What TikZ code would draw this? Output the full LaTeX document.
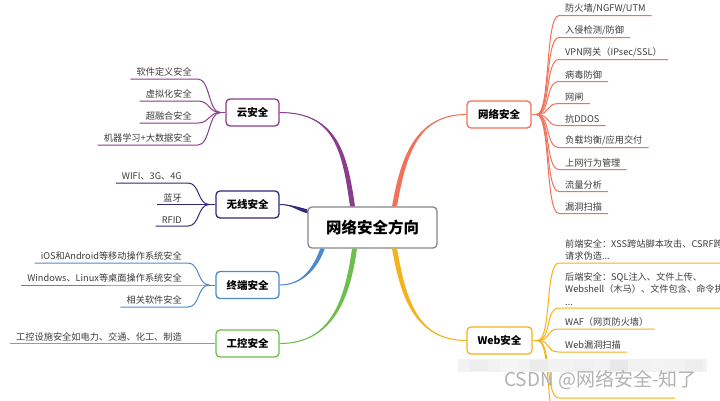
\documentclass[tikz,border=0pt]{standalone}
\usepackage{fontspec}
\newfontfamily\cjk{Noto Sans CJK SC}
\usetikzlibrary{calc}
\definecolor{cNet}{HTML}{F2715A}
\definecolor{cWeb}{HTML}{F6B21B}
\definecolor{cCloud}{HTML}{8A3D8C}
\definecolor{cWl}{HTML}{2F2B7C}
\definecolor{cTerm}{HTML}{4D89CF}
\definecolor{cInd}{HTML}{6DBF4B}
\definecolor{cCenter}{HTML}{858690}
\definecolor{cText}{HTML}{3C3C3C}
\newcommand\mainbranch[7]{%
  \fill[#1] ($(#2)+(#6)$) to[out=#4,in=#5,looseness=#7] (#3)
     to[out=#5,in=#4,looseness=#7] ($(#2)-(#6)$) -- cycle;
  \draw[#1, line width=1pt] (#2) to[out=#4,in=#5,looseness=#7] (#3);
}
\begin{document}
\begin{tikzpicture}[x=1pt,y=1pt,
  topic/.style={draw=#1, line width=1.3pt, rounded corners=4pt, fill=white,
    minimum width=64pt, minimum height=27pt, inner sep=0pt,
    font=\cjk\bfseries\fontsize{10.5}{12}\selectfont, text=black},
  itemR/.style={anchor=south west, inner xsep=6pt, inner ysep=2.5pt,
    font=\cjk\fontsize{9.2}{12.5}\selectfont, text=cText, align=left},
  itemL/.style={anchor=south east, inner xsep=6pt, inner ysep=2.5pt,
    font=\cjk\fontsize{9.2}{12.5}\selectfont, text=cText},
  sub/.style={draw=#1, line width=1pt},
]
\useasboundingbox (0,0) rectangle (720,-400);
\fill[white] (0,0) rectangle (720,-400);

% centre
\node[draw=cCenter, line width=1.3pt, rounded corners=4pt, fill=white,
  minimum width=129pt, minimum height=41pt, inner sep=0pt,
  font=\cjk\bfseries\fontsize{15.5}{18}\selectfont] (c) at (372.5,-227.5) {网络安全方向};

% topics
\node[topic=cNet] (net) at (499,-114.5) {网络安全};
\node[topic=cWeb, minimum width=65pt] (web) at (499.5,-340.5) {Web安全};
\node[topic=cCloud, minimum width=53pt] (cloud) at (252.5,-112.5) {云安全};
\node[topic=cWl, minimum width=63pt] (wl) at (247.5,-204.5) {无线安全};
\node[topic=cTerm, minimum width=63pt] (term) at (247.5,-285) {终端安全};
\node[topic=cInd, minimum width=63pt] (ind) at (247.5,-343.5) {工控安全};

% main branches
\coordinate (sNet) at ($(c.north)+(22,0)$);
\coordinate (sWeb) at ($(c.south)+(22,0)$);
\coordinate (sCloud) at ($(c.north)+(-20,0)$);
\coordinate (sInd) at ($(c.south)+(-18,0)$);
\coordinate (sTerm) at ($(c.south)+(-50,0)$);
\coordinate (sWl) at ($(c.north west)+(0,-5)$);
\mainbranch{cNet}{sNet}{net.west}{80}{180}{2.5,0}{1.1}
\mainbranch{cWeb}{sWeb}{web.west}{-80}{180}{2.5,0}{1.1}
\mainbranch{cCloud}{sCloud}{cloud.east}{98}{0}{2.5,0}{1.2}
\mainbranch{cInd}{sInd}{ind.east}{-98}{0}{2.5,0}{1.1}
\mainbranch{cTerm}{sTerm}{term.east}{-110}{0}{2.3,0}{1}
\mainbranch{cWl}{sWl}{wl.east}{165}{0}{0,2}{1}

% ---- network security items
\coordinate (jNet) at ($(net.east)+(5,0)$);
\draw[sub=cNet] (net.east) -- (jNet);
\foreach \t [count=\i] in {防火墙/NGFW/UTM,入侵检测/防御,VPN网关（IPsec/SSL）,病毒防御,网闸,抗DDOS,负载均衡/应用交付,上网行为管理,流量分析,漏洞扫描}{
  \node[itemR] (n\i) at (559,{-15.5-22*(\i-1)}) {\t};
  \draw[sub=cNet] (jNet) .. controls +(14,0) and +(-14,0) .. (n\i.south west) -- (n\i.south east);
}

% ---- web security items
\coordinate (jWeb) at ($(web.east)+(5,0)$);
\draw[sub=cWeb] (web.east) -- (jWeb);
\node[itemR] (w1) at (559,-263) {前端安全：XSS跨站脚本攻击、CSRF跨站\\请求伪造...};
\node[itemR] (w2) at (559,-308) {后端安全：SQL注入、文件上传、\\Webshell（木马）、文件包含、命令执行\\...};
\node[itemR] (w3) at (559,-329) {WAF（网页防火墙）};
\node[itemR] (w4) at (559,-352) {Web漏洞扫描};
\foreach \k in {w1,w2,w3,w4}{
  \draw[sub=cWeb] (jWeb) .. controls +(14,0) and +(-14,0) .. (\k.south west) -- (\k.south east);
}
\coordinate (w5a) at (559,-398);
\coordinate (w5b) at (675,-398);
\coordinate (w6a) at (559,-426);
\draw[sub=cWeb] (jWeb) .. controls +(14,0) and +(-14,0) .. (w5a) -- (w5b);
\draw[sub=cWeb] (jWeb) .. controls +(14,0) and +(-14,0) .. (w6a) -- ++(100,0);

% ---- cloud items
\coordinate (jCloud) at ($(cloud.west)+(-5,0)$);
\draw[sub=cCloud] (cloud.west) -- (jCloud);
\node[itemL] (k1) at (198,-79) {软件定义安全};
\node[itemL] (k2) at (198,-101) {虚拟化安全};
\node[itemL] (k3) at (198,-123) {超融合安全};
\node[itemL] (k4) at (198,-145) {机器学习+大数据安全};
\foreach \k in {k1,k2,k3,k4}{
  \draw[sub=cCloud] (jCloud) .. controls +(-12,0) and +(12,0) .. (\k.south east) -- (\k.south west);
}

% ---- wireless items
\coordinate (jWl) at ($(wl.west)+(-6,0)$);
\draw[sub=cWl] (wl.west) -- (jWl);
\node[itemL] (r1) at (188,-183) {WIFI、3G、4G};
\node[itemL] (r2) at (188,-204.5) {蓝牙};
\node[itemL] (r3) at (188,-226) {RFID};
\foreach \k in {r1,r2,r3}{
  \draw[sub=cWl] (jWl) .. controls +(-12,0) and +(12,0) .. (\k.south east) -- (\k.south west);
}

% ---- terminal items
\coordinate (jTerm) at ($(term.west)+(-6,0)$);
\draw[sub=cTerm] (term.west) -- (jTerm);
\node[itemL] (t1) at (188,-263) {iOS和Android等移动操作系统安全};
\node[itemL] (t2) at (188,-285) {Windows、Linux等桌面操作系统安全};
\node[itemL] (t3) at (188,-307) {相关软件安全};
\foreach \k in {t1,t2,t3}{
  \draw[sub=cTerm] (jTerm) .. controls +(-12,0) and +(12,0) .. (\k.south east) -- (\k.south west);
}

% ---- industrial control item
\node[itemL] (g1) at (188,-343.5) {工控设施安全如电力、交通、化工、制造};
\draw[sub=cInd] (ind.west) -- (g1.south east) -- (g1.south west);

% ---- mosaic and watermark
\fill[gray!10] (458,-359) rectangle (707,-372);
\foreach \x/\g in {470/14,500/8,530/16,575/12,610/18,650/9,685/13}{
  \fill[gray!\g] (\x,-360) rectangle ++(18,-11);
}
\node[anchor=west, inner sep=0pt, font=\cjk\fontsize{19}{20}\selectfont, text=gray!60] (wm) at (504,-380) {CSDN @网络安全-知了};
\end{tikzpicture}
\end{document}
